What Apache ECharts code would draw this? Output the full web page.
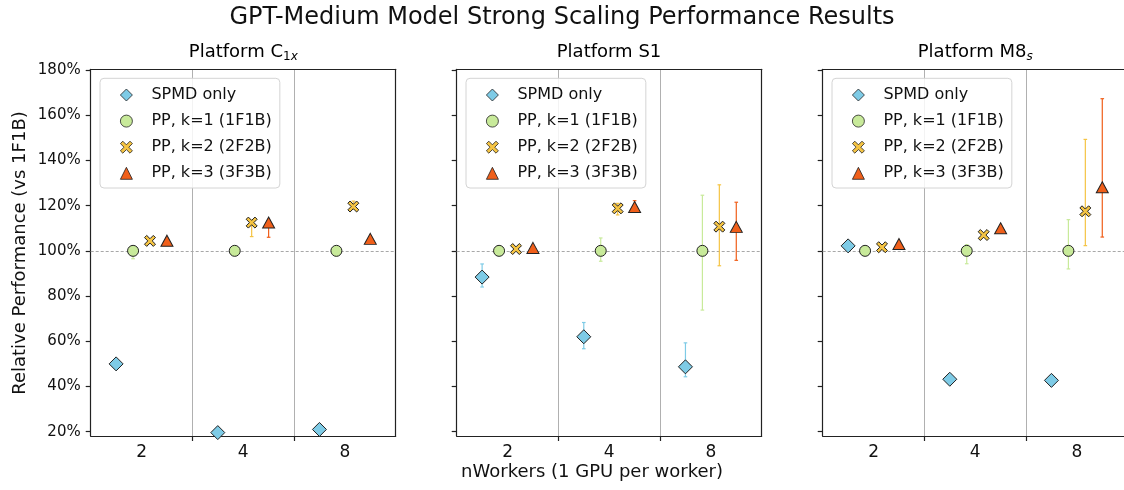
<!DOCTYPE html>
<html>
<head>
<meta charset="utf-8">
<script src="https://cdn.jsdelivr.net/npm/echarts@6/dist/echarts.min.js"></script>
<style>
    html, body { margin: 0; padding: 0; background: #fff; }
    #chartDiv { width: 1124px; height: 490px; }
</style>
</head>
<body>
<div id="chartDiv"></div>
<script>
// x categories (nWorkers) and y ticks
var categories = ['2', '4', '8'];
var yTicks = [20, 40, 60, 80, 100, 120, 140, 160, 180];
var seriesNames = ['SPMD only', 'PP, k=1 (1F1B)', 'PP, k=2 (2F2B)', 'PP, k=3 (3F3B)'];

// Platform C1x
var c1xSpmd = [50, 19.6, 21];
var c1xPp1 = [100, 100, 100];
var c1xPp2 = [104.4, 112.5, 119.6];
var c1xPp3 = [104.5, 112.5, 105.3];
var c1xSpmdErr = [null, null, null];
var c1xPp1Err = [[96.5, 101], [99, 101], [97.8, 101]];
var c1xPp2Err = [[103.5, 105], [106.3, 113.5], [118.5, 122]];
var c1xPp3Err = [[104, 105], [106, 113.5], [105, 105.5]];

// Platform S1
var s1Spmd = [88.4, 62.0, 48.7];
var s1Pp1 = [100, 100, 100];
var s1Pp2 = [100.8, 118.8, 110.7];
var s1Pp3 = [101.3, 119.4, 110.6];
var s1SpmdErr = [[84, 94.2], [56.7, 68.3], [44.3, 59.3]];
var s1Pp1Err = [[99, 101], [95.4, 105.7], [73.8, 124.6]];
var s1Pp2Err = [[100, 101.5], [115.9, 121], [93.4, 129.2]];
var s1Pp3Err = [[101, 102], [117, 122.2], [95.8, 121.5]];

// Platform M8s
var m8sSpmd = [102.2, 43.2, 42.7];
var m8sPp1 = [100, 100, 100];
var m8sPp2 = [101.6, 107, 117.5];
var m8sPp3 = [103, 110, 128.1];
var m8sSpmdErr = [null, null, null];
var m8sPp1Err = [[99.5, 100.5], [94.3, 102.7], [92, 113.8]];
var m8sPp2Err = [[101, 102], [106, 108], [102.3, 149.3]];
var m8sPp3Err = [[102.5, 103.5], [109.5, 110.5], [106.1, 167.3]];

var colorList = ['#7ecbe6', '#c8ea9a', '#f5c443', '#f05f1a'];
var symbolList = ['diamond', 'circle', 'path://M2,0 L5,3 L8,0 L10,2 L7,5 L10,8 L8,10 L5,7 L2,10 L0,8 L3,5 L0,2 Z', 'triangle'];
var symbolSizes = [14, 11, 11, [12, 11]];
var dodge = [-0.25, -0.0833, 0.0833, 0.25];

var FONT = 'DejaVu Sans';
var gridLefts = [90.7, 456.7, 822.7];
var gridTop = 69.3, gridW = 305, gridH = 366.7;

var panels = [
    {vals: [c1xSpmd, c1xPp1, c1xPp2, c1xPp3], errs: [c1xSpmdErr, c1xPp1Err, c1xPp2Err, c1xPp3Err]},
    {vals: [s1Spmd, s1Pp1, s1Pp2, s1Pp3], errs: [s1SpmdErr, s1Pp1Err, s1Pp2Err, s1Pp3Err]},
    {vals: [m8sSpmd, m8sPp1, m8sPp2, m8sPp3], errs: [m8sSpmdErr, m8sPp1Err, m8sPp2Err, m8sPp3Err]}
];

function errRender(color) {
    return function (params, api) {
        var x = api.value(0);
        var lo = api.coord([x, api.value(1)]);
        var hi = api.coord([x, api.value(2)]);
        var st = {stroke: color, lineWidth: 1.2};
        return {
            type: 'group',
            children: [
                {type: 'line', shape: {x1: lo[0], y1: lo[1], x2: hi[0], y2: hi[1]}, style: st},
                {type: 'line', shape: {x1: lo[0] - 1.8, y1: lo[1], x2: lo[0] + 1.8, y2: lo[1]}, style: st},
                {type: 'line', shape: {x1: hi[0] - 1.8, y1: hi[1], x2: hi[0] + 1.8, y2: hi[1]}, style: st}
            ]
        };
    };
}

var grids = [], xAxes = [], yAxes = [], legends = [], series = [];
var spine = {show: true, onZero: false, lineStyle: {color: '#222', width: 1.2}};

panels.forEach(function (p, pi) {
    // spines are drawn by the axes (the last panel runs past the right edge)
    grids.push({
        left: gridLefts[pi], top: gridTop, width: gridW, height: gridH,
        outerBoundsMode: 'none', containLabel: false, show: false
    });
    xAxes.push({
        gridIndex: pi, type: 'value', min: 0, max: 3, interval: 1, position: 'bottom',
        axisLine: spine,
        axisTick: {show: true, length: 5, customValues: [1, 2], lineStyle: {color: '#222', width: 1.2}},
        axisLabel: {
            show: true, customValues: [0.5, 1.5, 2.5], margin: 8,
            fontFamily: FONT, fontSize: 17, color: '#111',
            formatter: function (v) { return categories[Math.floor(v)]; }
        },
        splitLine: {show: true, lineStyle: {color: '#b0b0b0', width: 1}}
    });
    // top spine
    xAxes.push({
        gridIndex: pi, type: 'value', min: 0, max: 3, position: 'top',
        axisLine: spine, axisTick: {show: false}, axisLabel: {show: false}, splitLine: {show: false}
    });
    yAxes.push({
        gridIndex: pi, type: 'value', min: 18.1, max: 180.3, position: 'left',
        axisLine: spine,
        axisTick: {show: true, length: 5, customValues: yTicks, lineStyle: {color: '#222', width: 1.2}},
        axisLabel: {
            show: pi === 0, customValues: yTicks, margin: 10,
            fontFamily: FONT, fontSize: 15, color: '#111',
            formatter: function (v) { return v + '%'; }
        },
        splitLine: {show: false}
    });
    // right spine
    yAxes.push({
        gridIndex: pi, type: 'value', min: 18.1, max: 180.3, position: 'right',
        axisLine: spine, axisTick: {show: false}, axisLabel: {show: false}, splitLine: {show: false}
    });
    legends.push({
        data: seriesNames,
        orient: 'vertical',
        left: gridLefts[pi] + 9.3, top: 78.3,
        itemWidth: 12, itemHeight: 12, itemGap: 10.1,
        padding: [8.7, 8, 6.7, 20],
        backgroundColor: 'rgba(255,255,255,0.85)',
        borderColor: '#d4d4d4', borderWidth: 1, borderRadius: 4,
        itemStyle: {borderWidth: 0.8},
        textStyle: {fontFamily: FONT, fontSize: 16, color: '#111', padding: [0, 0, 0, 14]}
    });

    p.errs.forEach(function (errArr, si) {
        var data = [];
        errArr.forEach(function (e, ci) {
            if (e) data.push([ci + 0.5 + dodge[si], e[0], e[1]]);
        });
        series.push({
            name: 'err ' + seriesNames[si],
            type: 'custom',
            xAxisIndex: pi * 2, yAxisIndex: pi * 2,
            renderItem: errRender(colorList[si]),
            encode: {x: 0, y: [1, 2]},
            data: data,
            silent: true,
            z: 2
        });
    });

    p.vals.forEach(function (valArr, si) {
        var s = {
            name: seriesNames[si],
            type: 'scatter',
            xAxisIndex: pi * 2, yAxisIndex: pi * 2,
            symbol: symbolList[si],
            symbolSize: symbolSizes[si],
            itemStyle: {color: colorList[si], borderColor: '#222', borderWidth: 1, opacity: 1},
            data: valArr.map(function (v, ci) { return [ci + 0.5 + dodge[si], v]; }),
            z: 3
        };
        if (si === 1) {
            // 100% reference line
            s.markLine = {
                silent: true, symbol: 'none', label: {show: false},
                lineStyle: {color: '#a8a8a8', type: [3, 2], width: 1},
                data: [{yAxis: 100}],
                z: 1
            };
        }
        series.push(s);
    });
});

var titleTexts = [
    {x: 243.3, y: 52, text: '{m|Platform C}{sub|1}{subi|x}'},
    {x: 609, y: 52, text: '{m|Platform S1}'},
    {x: 975.2, y: 52, text: '{m|Platform M8}{subi|s}'}
];
var rich = {
    m: {fontFamily: FONT, fontSize: 18, color: '#111', lineHeight: 22},
    sub: {fontFamily: FONT, fontSize: 12, color: '#111', lineHeight: 12, verticalAlign: 'bottom'},
    subi: {fontFamily: FONT, fontSize: 12, fontStyle: 'italic', color: '#111', lineHeight: 12, verticalAlign: 'bottom'}
};

var graphics = [
    {type: 'text', x: 562, y: 18, style: {text: 'GPT-Medium Model Strong Scaling Performance Results', fontFamily: FONT, fontSize: 24, fill: '#111', align: 'center', verticalAlign: 'middle'}},
    {type: 'text', x: 592, y: 472, style: {text: 'nWorkers (1 GPU per worker)', fontFamily: FONT, fontSize: 18, fill: '#111', align: 'center', verticalAlign: 'middle'}},
    {type: 'text', x: 20, y: 253, rotation: Math.PI / 2, style: {text: 'Relative Performance (vs 1F1B)', fontFamily: FONT, fontSize: 18, fill: '#111', align: 'center', verticalAlign: 'middle'}}
];
titleTexts.forEach(function (t) {
    graphics.push({type: 'text', x: t.x, y: t.y, style: {text: t.text, rich: rich, align: 'center', verticalAlign: 'middle'}});
});

var option = {
    animation: false,
    backgroundColor: '#fff',
    grid: grids,
    xAxis: xAxes,
    yAxis: yAxes,
    legend: legends,
    graphic: graphics,
    series: series
};

var chart = echarts.init(document.getElementById('chartDiv'));
chart.setOption(option);
</script>
</body>
</html>
